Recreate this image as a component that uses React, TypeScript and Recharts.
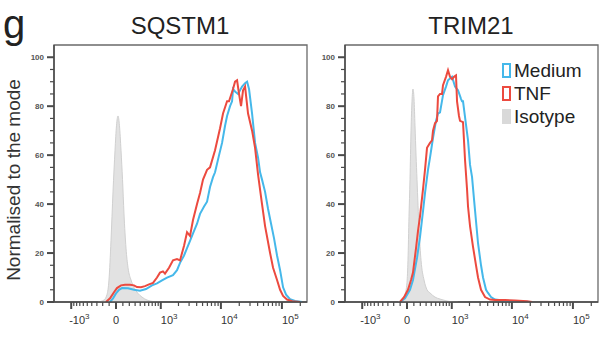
import { Area, ComposedChart, Line, ReferenceArea, XAxis, YAxis } from "recharts";

const C = {
  medium: "#45b8ea",
  tnf: "#ec4a3f",
  isoFill: "#e2e2e2",
  isoLine: "#d0d0d0",
  frame: "#6a6a6a",
  axis: "#4a4a4a",
  text: "#222",
};

// x is in biexponential display units (about one unit per decade), y is % of mode
type Pair = [number, number];

const sqstm1Isotype: Pair[] = [
  [-0.295, 0], [-0.197, 0.8], [-0.148, 3], [-0.115, 9], [-0.082, 25], [-0.049, 45], [-0.016, 62],
  [0.008, 72], [0.033, 76], [0.057, 72], [0.082, 62], [0.107, 50], [0.131, 36], [0.164, 22],
  [0.197, 14], [0.246, 9], [0.295, 6], [0.361, 3.5], [0.426, 2], [0.508, 0.8], [0.607, 0.2], [0.721, 0],
];

const sqstm1Medium: Pair[] = [
  [-0.098, 0], [-0.049, 1.5], [0, 3.5], [0.049, 5], [0.098, 5.7], [0.197, 5.6], [0.295, 5], [0.393, 4.6],
  [0.492, 5.3], [0.59, 6.8], [0.672, 7.6], [0.754, 8.8], [0.836, 10], [0.934, 11], [1.0, 13], [1.049, 16],
  [1.115, 19], [1.164, 22], [1.213, 25], [1.262, 28], [1.328, 32], [1.377, 36], [1.443, 39], [1.492, 41],
  [1.541, 47], [1.59, 51], [1.623, 53], [1.689, 60], [1.738, 65], [1.787, 72], [1.82, 76], [1.869, 80],
  [1.902, 82], [1.918, 87], [1.951, 86], [2.0, 85], [2.066, 88], [2.115, 89.4], [2.148, 90], [2.18, 87],
  [2.23, 77], [2.279, 65], [2.328, 59], [2.361, 53], [2.393, 50], [2.443, 45], [2.492, 38], [2.541, 32],
  [2.59, 26], [2.639, 19], [2.689, 13], [2.738, 6], [2.787, 3], [2.852, 1.2], [2.934, 0.4], [3.049, 0],
];

const sqstm1Tnf: Pair[] = [
  [-0.164, 0], [-0.098, 1.5], [-0.033, 4], [0.016, 5.7], [0.082, 6.8], [0.148, 7], [0.23, 7], [0.295, 6.8],
  [0.344, 6.1], [0.41, 6], [0.475, 6.5], [0.541, 7.2], [0.607, 7.8], [0.672, 10], [0.721, 12], [0.77, 12.5],
  [0.803, 11.6], [0.869, 14], [0.934, 17], [1.0, 17.5], [1.049, 17], [1.115, 23], [1.164, 28.5], [1.213, 27],
  [1.262, 33.5], [1.328, 40], [1.377, 44.5], [1.426, 50], [1.492, 54], [1.541, 55], [1.623, 62], [1.705, 71],
  [1.754, 77], [1.82, 82], [1.852, 82], [1.918, 87], [1.951, 90], [1.984, 90.6], [2.016, 85], [2.049, 80],
  [2.082, 86.5], [2.115, 88], [2.164, 77], [2.23, 70], [2.279, 63], [2.328, 52], [2.393, 40], [2.443, 31],
  [2.525, 20], [2.574, 14], [2.639, 9], [2.689, 5], [2.738, 2.5], [2.803, 1], [2.885, 0.3], [3.016, 0],
];

const trim21Isotype: Pair[] = [
  [-0.148, 0], [-0.066, 1], [-0.033, 3], [0, 8], [0.016, 17], [0.033, 35], [0.049, 50], [0.066, 70],
  [0.082, 82], [0.098, 87], [0.115, 83], [0.131, 72], [0.148, 60], [0.164, 50], [0.197, 30], [0.23, 17],
  [0.279, 9], [0.328, 5], [0.377, 3.7], [0.459, 2], [0.541, 1.2], [0.639, 0.5], [0.738, 0.1], [0.836, 0],
];

const trim21Medium: Pair[] = [
  [-0.115, 0], [-0.033, 1.5], [0.049, 5], [0.098, 9], [0.164, 18], [0.213, 26.5], [0.262, 37], [0.295, 44.5],
  [0.344, 54], [0.377, 59], [0.426, 67], [0.475, 74], [0.508, 77], [0.541, 77.5], [0.59, 84.5], [0.639, 88],
  [0.672, 90.6], [0.738, 92], [0.787, 88], [0.836, 86.5], [0.885, 83], [0.902, 82], [0.918, 82], [0.951, 75.5],
  [1.0, 66], [1.033, 56], [1.066, 51], [1.098, 42], [1.131, 33], [1.164, 24], [1.213, 15], [1.246, 10],
  [1.295, 5], [1.328, 3.7], [1.377, 2], [1.443, 1], [1.607, 0.5], [1.852, 0.3], [2.016, 0],
];

const trim21Tnf: Pair[] = [
  [-0.115, 0], [-0.049, 2], [0.016, 5], [0.066, 9], [0.098, 12], [0.148, 22], [0.18, 29], [0.213, 35],
  [0.262, 46], [0.295, 54], [0.328, 63], [0.377, 65], [0.41, 66], [0.426, 70], [0.459, 73], [0.492, 74],
  [0.508, 84], [0.541, 85], [0.574, 85], [0.59, 88.6], [0.639, 92], [0.672, 94.7], [0.705, 92], [0.738, 91],
  [0.77, 92], [0.803, 92.6], [0.82, 82], [0.852, 76], [0.869, 74], [0.918, 73.5], [0.951, 58], [0.984, 46],
  [1.0, 39], [1.033, 31], [1.082, 22.5], [1.131, 15], [1.164, 10], [1.213, 5], [1.279, 2], [1.361, 1],
  [1.443, 0.8], [1.607, 0.8], [1.77, 0.6], [1.967, 0.3], [2.049, 0],
];

// axis ticks, in fluorescence intensity
const xMajor = [-1000, 0, 1000, 10000, 100000];
const xMajorLabels: [string, string][] = [["-10", "3"], ["0", ""], ["10", "3"], ["10", "4"], ["10", "5"]];
const xMinor = [
  -900, -800, -700, -600, -500, -400, -300, -200, -100,
  100, 200, 300, 400, 500, 600, 700, 800, 900,
  2000, 3000, 4000, 5000, 6000, 7000, 8000, 9000,
  20000, 30000, 40000, 50000, 60000, 70000, 80000, 90000,
  200000,
];
const yTicks = [0, 5, 10, 15, 20, 25, 30, 35, 40, 45, 50, 55, 60, 65, 70, 75, 80, 85, 90, 95, 100];
const yLabelled = [0, 20, 40, 60, 80, 100];

const legendItems = [
  { name: "Medium", color: C.medium, filled: false },
  { name: "TNF", color: C.tnf, filled: false },
  { name: "Isotype", color: "#d9d9d9", filled: true },
];

const X_DOMAIN: [number, number] = [-1.016, 3.13];
const Y_DOMAIN: [number, number] = [0, 105];

const biex = (v: number) => (Math.sign(v) * Math.asinh(Math.abs(v) / 382)) / Math.LN10;
const key = (t: number) => t.toFixed(4);
const labelAt = new Map(xMajor.map((v, i) => [key(biex(v)), xMajorLabels[i]]));
const xTicks = [...xMajor, ...xMinor].map(biex);
const pts = (a: Pair[]) => a.map(([x, y]) => ({ x, y }));

function XTick(props: any) {
  const { x, y, payload } = props;
  const lab = labelAt.get(key(payload.value));
  const major = lab !== undefined;
  return (
    <g>
      <line x1={x} x2={x} y1={y} y2={y + (major ? 7 : 4)} stroke={C.axis} strokeWidth={major ? 2 : 1.2} />
      {major &&
        (lab[1] === "" ? (
          <text x={x} y={y + 22} textAnchor="middle" fontSize={11} fill="#333">
            {lab[0]}
          </text>
        ) : (
          <text x={x - (lab[0].startsWith("-") ? 2 : 0)} y={y + 22} textAnchor="start" fontSize={11} fill="#333">
            <tspan>{lab[0]}</tspan>
            <tspan dy={-5} fontSize={8}>
              {lab[1]}
            </tspan>
          </text>
        ))}
    </g>
  );
}

function YTick(props: any) {
  const { x, y, payload } = props;
  const major = yLabelled.includes(payload.value);
  return (
    <g>
      <line x1={x} x2={x - (major ? 7 : 4)} y1={y} y2={y} stroke={C.axis} strokeWidth={major ? 2 : 1.2} />
      {major && (
        <text x={x - 10} y={y + 3} textAnchor="end" fontSize={8} fontWeight={700} fill="#555">
          {payload.value}
        </text>
      )}
    </g>
  );
}

function LegendBox() {
  return (
    <div style={{ fontSize: 19, color: C.text, lineHeight: "23px" }}>
      {legendItems.map((it) => (
        <div key={it.name} style={{ display: "flex", alignItems: "center", height: 23 }}>
          <span
            style={{
              display: "inline-block",
              boxSizing: "border-box",
              width: 9,
              height: 15,
              border: it.filled ? "none" : `2px solid ${it.color}`,
              background: it.filled ? it.color : "transparent",
              marginRight: 3,
            }}
          />
          {it.name}
        </div>
      ))}
    </div>
  );
}

function Histogram({ iso, medium, tnf }: { iso: Pair[]; medium: Pair[]; tnf: Pair[] }) {
  return (
    <ComposedChart width={310} height={339} margin={{ top: 45, right: 3, bottom: 0, left: 24 }}>
      <XAxis
        type="number"
        dataKey="x"
        domain={X_DOMAIN}
        allowDataOverflow
        ticks={xTicks}
        interval={0}
        height={37}
        tickSize={0}
        tickMargin={0}
        tickLine={false}
        axisLine={{ stroke: C.axis, strokeWidth: 1.5 }}
        tick={<XTick />}
      />
      <YAxis
        type="number"
        dataKey="y"
        domain={Y_DOMAIN}
        allowDataOverflow
        ticks={yTicks}
        interval={0}
        width={30}
        tickSize={0}
        tickMargin={0}
        tickLine={false}
        axisLine={{ stroke: C.axis, strokeWidth: 1.5 }}
        tick={<YTick />}
      />
      <ReferenceArea
        x1={X_DOMAIN[0]}
        x2={X_DOMAIN[1]}
        y1={Y_DOMAIN[0]}
        y2={Y_DOMAIN[1]}
        fill="none"
        fillOpacity={0}
        stroke={C.frame}
        strokeWidth={1.3}
      />
      <Area
        data={pts(iso)}
        dataKey="y"
        name="Isotype"
        type="monotone"
        fill={C.isoFill}
        fillOpacity={1}
        stroke={C.isoLine}
        strokeWidth={1}
        isAnimationActive={false}
      />
      <Line data={pts(medium)} dataKey="y" name="Medium" type="linear" stroke={C.medium} strokeWidth={2} dot={false} isAnimationActive={false} />
      <Line data={pts(tnf)} dataKey="y" name="TNF" type="linear" stroke={C.tnf} strokeWidth={2} dot={false} isAnimationActive={false} />
    </ComposedChart>
  );
}

export default function App() {
  const font = '"Liberation Sans", Arial, sans-serif';
  return (
    <div style={{ position: "absolute", left: 0, top: 0, width: 600, height: 339, background: "#fff", fontFamily: font, overflow: "hidden" }}>
      <div style={{ position: "absolute", left: 0, top: 0 }}>
        <Histogram iso={sqstm1Isotype} medium={sqstm1Medium} tnf={sqstm1Tnf} />
      </div>
      <div style={{ position: "absolute", left: 291, top: 0 }}>
        <Histogram iso={trim21Isotype} medium={trim21Medium} tnf={trim21Tnf} />
      </div>
      <div style={{ position: "absolute", left: 502, top: 59 }}>
        <LegendBox />
      </div>
      <div style={{ position: "absolute", left: 3, top: 2, fontSize: 40, lineHeight: "44px", color: C.text }}>g</div>
      <div style={{ position: "absolute", left: 80, width: 200, top: 14, fontSize: 24, lineHeight: "24px", textAlign: "center", color: C.text }}>
        SQSTM1
      </div>
      <div style={{ position: "absolute", left: 371, width: 200, top: 14, fontSize: 24, lineHeight: "24px", textAlign: "center", color: C.text }}>
        TRIM21
      </div>
      <div
        style={{
          position: "absolute",
          left: 13.5 - 130,
          top: 180 - 11,
          width: 260,
          height: 22,
          lineHeight: "22px",
          textAlign: "center",
          fontSize: 19,
          color: "#333",
          transform: "rotate(-90deg)",
        }}
      >
        Normalised to the mode
      </div>
    </div>
  );
}
